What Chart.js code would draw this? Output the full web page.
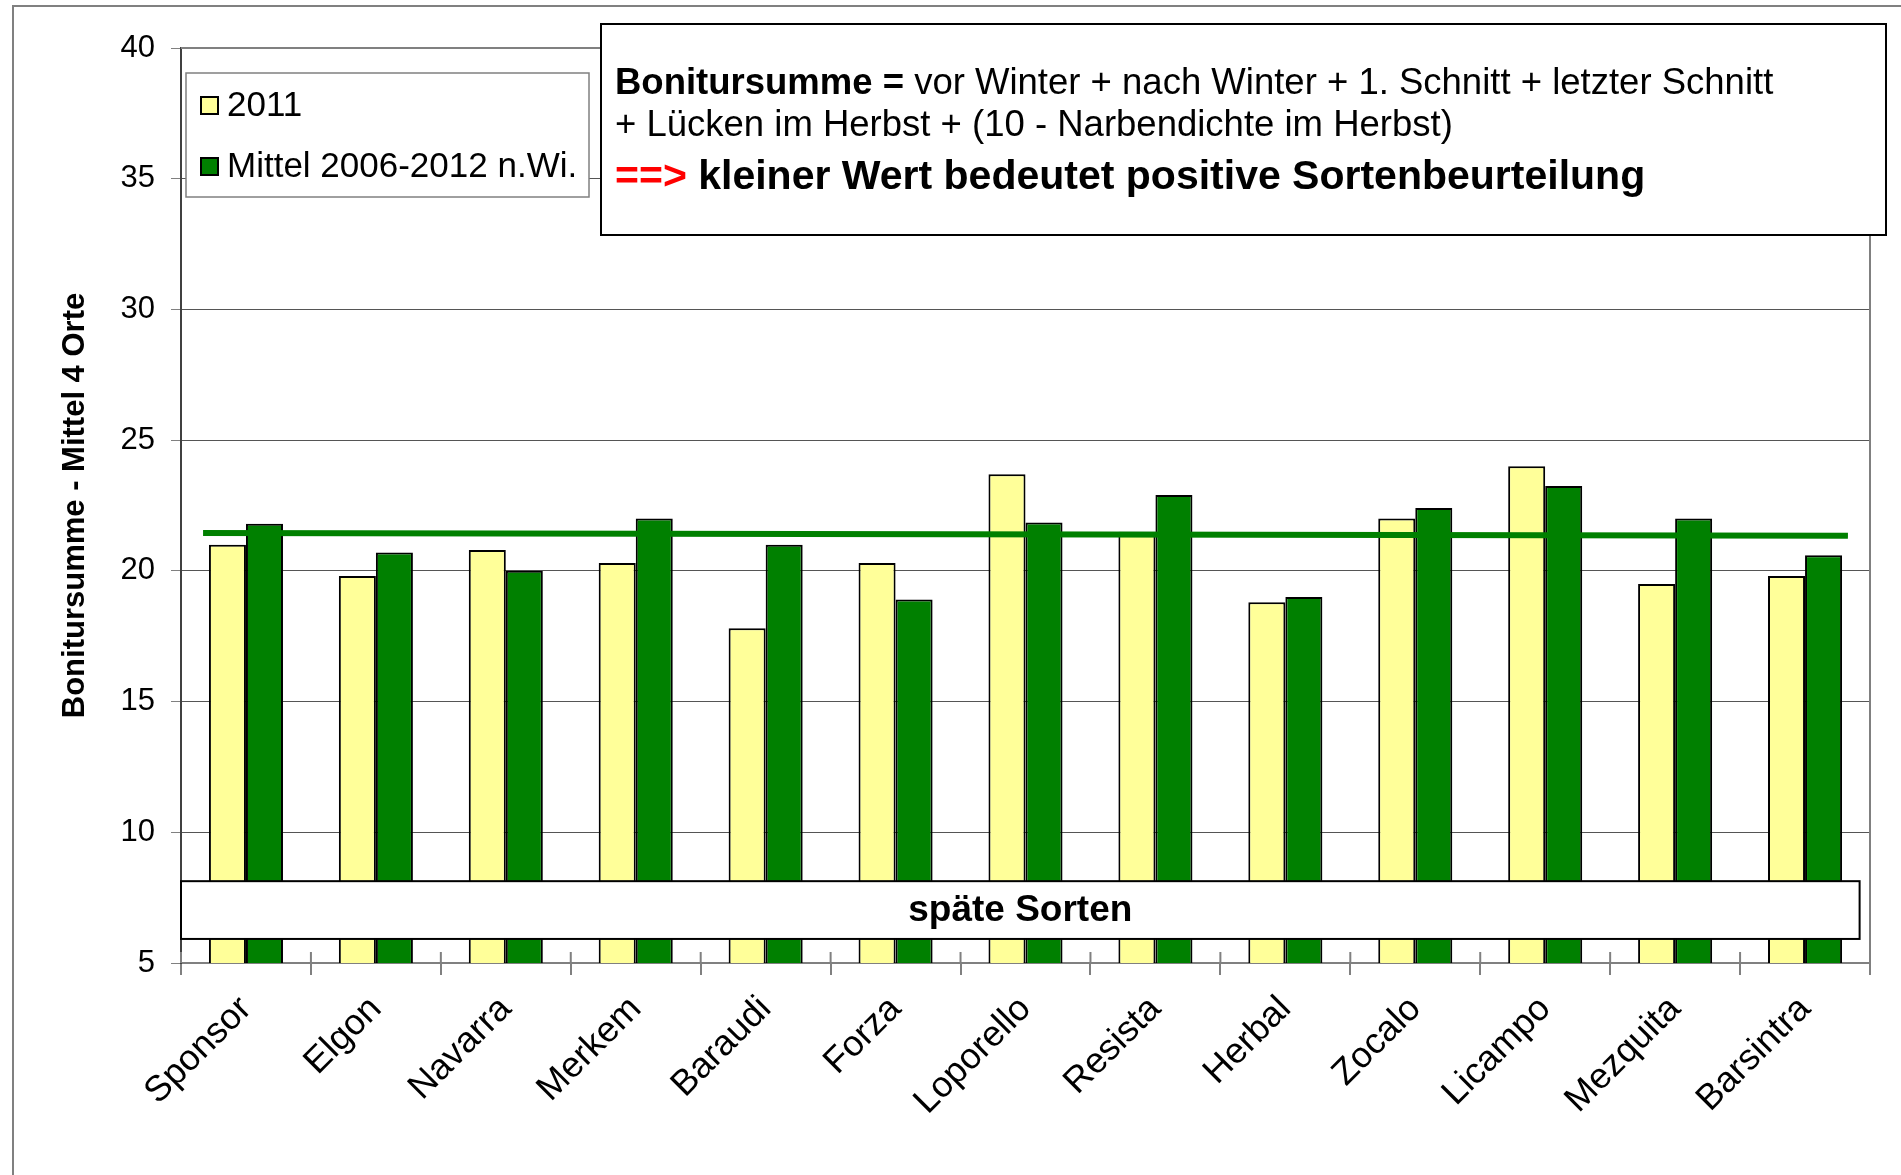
<!DOCTYPE html>
<html>
<head>
<meta charset="utf-8">
<title>Bonitursumme späte Sorten</title>
<script src="https://cdn.jsdelivr.net/npm/chart.js@4.4.1/dist/chart.umd.min.js"></script>
<style>
  html, body { margin: 0; padding: 0; background: #fff; }
  #wrap { width: 1901px; height: 1175px; }
</style>
</head>
<body>
<div id="wrap"><canvas id="chart" width="1901" height="1175"></canvas></div>
<script>
// Sorten (Kategorien)
const categories = ['Sponsor', 'Elgon', 'Navarra', 'Merkem', 'Baraudi', 'Forza', 'Loporello',
    'Resista', 'Herbal', 'Zocalo', 'Licampo', 'Mezquita', 'Barsintra'];

// Bonitursumme 2011
const values2011 = [21.0, 19.8, 20.8, 20.3, 17.8, 20.3, 23.7, 21.5, 18.8, 22.0, 24.0, 19.5, 19.8];
// Mittel 2006-2012 n.Wi.
const valuesMittel = [21.8, 20.7, 20.0, 22.0, 21.0, 18.9, 21.85, 22.9, 19.0, 22.4, 23.25, 22.0, 20.6];

// Trendlinie (Position auf der Kategorienachse, Wert)
const trendX = [-0.33, 12.33];
const trendY = [21.45, 21.34];

// Y-Achse
const yMin = 5;
const yMax = 40;
const yStep = 5;

const seriesLabels = ['2011', 'Mittel 2006-2012 n.Wi.'];
const yTitle = 'Bonitursumme - Mittel 4 Orte';

// Band "späte Sorten" (Wertebereich und rechtes Ende auf der Kategorienachse)
const bandLabel = 'späte Sorten';
const bandRange = [5.92, 8.13];
const bandEnd = 12.42;

const FONT = '"Liberation Sans", Arial, Helvetica, sans-serif';
const YELLOW = '#FFFF99';
const GREEN = '#008000';

// Zeichnet Rahmen, Trendlinie, Band, Legende und Hinweisbox
const overlayPlugin = {
    id: 'overlay',
    beforeDraw(chart) {
        const ctx = chart.ctx;
        ctx.save();
        ctx.fillStyle = '#fff';
        ctx.fillRect(0, 0, chart.width, chart.height);
        ctx.strokeStyle = '#808080';
        ctx.lineWidth = 2;
        ctx.strokeRect(13, 6, chart.width + 20, chart.height + 20);
        ctx.restore();
    },
    beforeDatasetsDraw(chart) {
        const { ctx, chartArea: a } = chart;
        ctx.save();
        ctx.strokeStyle = '#808080';
        ctx.lineWidth = 2;
        ctx.beginPath();
        ctx.moveTo(a.left, a.top);
        ctx.lineTo(a.right, a.top);
        ctx.lineTo(a.right, a.bottom);
        ctx.stroke();
        ctx.restore();
    },
    afterDatasetsDraw(chart) {
        const { ctx, chartArea: a, scales } = chart;
        const xs = scales.x, ys = scales.y;
        ctx.save();

        // Trendlinie
        ctx.strokeStyle = GREEN;
        ctx.lineWidth = 6;
        ctx.beginPath();
        trendX.forEach((v, i) => {
            const px = xs.getPixelForValue(v), py = ys.getPixelForValue(trendY[i]);
            if (i === 0) ctx.moveTo(px, py); else ctx.lineTo(px, py);
        });
        ctx.stroke();

        // Band "späte Sorten"
        const bx1 = a.left;
        const bx2 = xs.getPixelForValue(bandEnd);
        const by1 = ys.getPixelForValue(bandRange[1]);
        const by2 = ys.getPixelForValue(bandRange[0]);
        ctx.fillStyle = '#fff';
        ctx.fillRect(bx1, by1, bx2 - bx1, by2 - by1);
        ctx.strokeStyle = '#000';
        ctx.lineWidth = 2;
        ctx.strokeRect(bx1, by1, bx2 - bx1, by2 - by1);
        ctx.fillStyle = '#000';
        ctx.font = 'bold 37px ' + FONT;
        ctx.textAlign = 'center';
        ctx.textBaseline = 'middle';
        ctx.fillText(bandLabel, (bx1 + bx2) / 2, (by1 + by2) / 2 + 1);

        // kleine Teilstriche oberhalb der X-Achse
        ctx.strokeStyle = '#808080';
        ctx.lineWidth = 2;
        ctx.beginPath();
        for (let i = 0; i <= categories.length; i++) {
            const px = xs.getPixelForValue(i - 0.5);
            ctx.moveTo(px, a.bottom - 11);
            ctx.lineTo(px, a.bottom);
        }
        ctx.stroke();

        // Legende
        ctx.fillStyle = '#fff';
        ctx.fillRect(186, 73, 403, 124);
        ctx.strokeStyle = '#808080';
        ctx.lineWidth = 1.5;
        ctx.strokeRect(186, 73, 403, 124);
        ctx.font = '35px ' + FONT;
        ctx.textAlign = 'left';
        ctx.textBaseline = 'middle';
        chart.data.datasets.forEach((d, i) => {
            const cy = 105 + i * 61;
            ctx.fillStyle = d.backgroundColor;
            ctx.fillRect(201, cy - 8, 17, 17);
            ctx.strokeStyle = '#000';
            ctx.lineWidth = 2;
            ctx.strokeRect(201, cy - 8, 17, 17);
            ctx.fillStyle = '#000';
            ctx.fillText(d.label, 227, cy + 1);
        });

        // Hinweisbox
        ctx.fillStyle = '#fff';
        ctx.fillRect(601, 24, 1285, 211);
        ctx.strokeStyle = '#000';
        ctx.lineWidth = 2;
        ctx.strokeRect(601, 24, 1285, 211);
        ctx.textBaseline = 'alphabetic';
        ctx.fillStyle = '#000';
        ctx.font = 'bold 36.5px ' + FONT;
        ctx.fillText('Bonitursumme =', 615, 94);
        let w = ctx.measureText('Bonitursumme =').width;
        ctx.font = '36.5px ' + FONT;
        ctx.fillText(' vor Winter + nach Winter + 1. Schnitt + letzter Schnitt', 615 + w, 94);
        ctx.fillText('+ Lücken im Herbst + (10 - Narbendichte im Herbst)', 615, 136);
        ctx.font = 'bold 41px ' + FONT;
        ctx.fillStyle = '#FF0000';
        ctx.fillText('==>', 615, 189);
        w = ctx.measureText('==>').width;
        ctx.fillStyle = '#000';
        ctx.fillText(' kleiner Wert bedeutet positive Sortenbeurteilung', 615 + w, 189);

        ctx.restore();
    }
};

const chart = new Chart(document.getElementById('chart'), {
    type: 'bar',
    data: {
        labels: categories,
        datasets: [
            {
                label: seriesLabels[0],
                data: values2011,
                backgroundColor: YELLOW,
                borderColor: '#000',
                borderWidth: 2
            },
            {
                label: seriesLabels[1],
                data: valuesMittel,
                backgroundColor: GREEN,
                borderColor: '#000',
                borderWidth: 2
            }
        ]
    },
    options: {
        responsive: false,
        animation: false,
        layout: { padding: { left: 0, right: 31, top: 48, bottom: 0 } },
        categoryPercentage: 0.57,
        barPercentage: 1.0,
        plugins: {
            legend: { display: false },
            tooltip: { enabled: false },
            title: { display: false }
        },
        scales: {
            x: {
                offset: true,
                grid: {
                    display: true,
                    drawOnChartArea: false,
                    offset: true,
                    tickLength: 12,
                    color: '#808080',
                    lineWidth: 2
                },
                border: { display: true, color: '#808080', width: 2 },
                ticks: {
                    minRotation: 45,
                    maxRotation: 45,
                    autoSkip: false,
                    color: '#000',
                    padding: 13,
                    font: { family: FONT, size: 36 }
                },
                afterFit(scale) { scale.height = 212; }
            },
            y: {
                min: yMin,
                max: yMax,
                ticks: {
                    stepSize: yStep,
                    color: '#000',
                    padding: 16,
                    font: { family: FONT, size: 31 }
                },
                grid: {
                    color: ctx => (ctx.tick && (ctx.tick.value === yMin || ctx.tick.value === yMax)) ? 'rgba(0,0,0,0)' : '#555',
                    tickColor: '#808080',
                    lineWidth: 1,
                    tickLength: 10,
                    borderDash: [1, 1],
                    tickBorderDash: []
                },
                border: { display: true, color: '#404040', width: 2 },
                title: {
                    display: true,
                    text: yTitle,
                    color: '#000',
                    font: { family: FONT, size: 31, weight: 'bold' },
                    padding: { top: 57, bottom: 0 }
                },
                afterFit(scale) { scale.width = 181; }
            }
        }
    },
    plugins: [overlayPlugin]
});
</script>
</body>
</html>
